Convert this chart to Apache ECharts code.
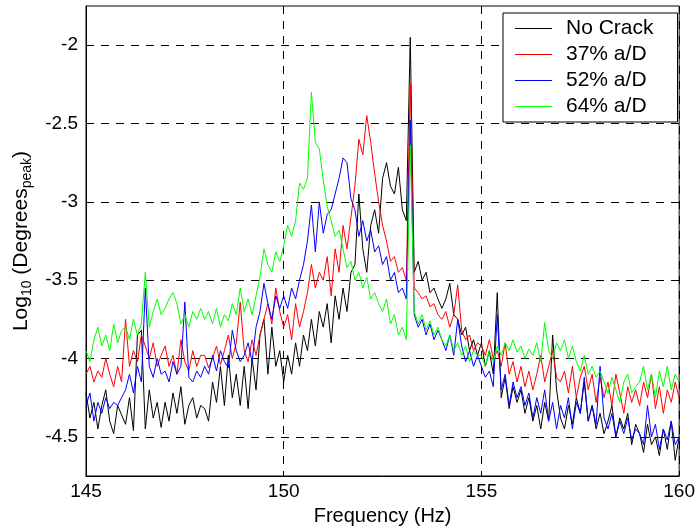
<!DOCTYPE html>
<html>
<head>
<meta charset="utf-8">
<script src="https://cdn.jsdelivr.net/npm/echarts@6/dist/echarts.min.js"></script>
<style>
  html, body { margin: 0; padding: 0; background: #fff; }
  #container { width: 698px; height: 531px; }
</style>
</head>
<body>
<div id="container"></div>
<script>
// sampling grid of the spectra (Hz)
var freqStart = 145;
var freqStep = 0.1;

var seriesNames = ['No Crack', '37% a/D', '52% a/D', '64% a/D'];
var seriesColors = ['#000000', '#ff0000', '#0000ff', '#00ff00'];
var yTicks = [-4.5, -4, -3.5, -3, -2.5, -2];

// log10 of peak amplitude, one value per 0.1 Hz from 145 to 160
var noCrack = [
    -4.22, -4.38, -4.28, -4.45, -4.30, -4.20, -4.40, -4.48, -4.30, -4.36,
    -4.42, -4.25, -4.46, -3.85, -3.82, -4.45, -4.20, -4.38, -4.28, -4.44,
    -4.28, -4.40, -4.22, -4.35, -4.18, -4.42, -4.30, -4.25, -4.38, -4.30,
    -4.32, -4.40, -4.15, -4.28, -4.05, -4.30, -3.98, -4.25, -4.10, -4.30,
    -4.05, -4.32, -4.00, -4.20, -3.85, -3.75, -4.10, -3.80, -4.05, -3.95,
    -4.15, -3.98, -4.10, -3.90, -4.05, -3.85, -3.95, -3.75, -3.92, -3.70,
    -3.80, -3.65, -3.90, -3.60, -3.75, -3.55, -3.70, -3.45, -3.40, -2.95,
    -3.30, -3.45, -3.15, -3.05, -3.20, -2.85, -2.75, -2.90, -2.95, -2.78,
    -3.05, -3.12, -1.95, -3.45, -3.38, -3.50, -3.45, -3.58, -3.55, -3.62,
    -3.68, -3.62, -3.52, -3.72, -3.75, -3.85, -3.80, -3.95, -3.88, -3.98,
    -3.90, -4.05, -3.95, -4.10, -3.58, -4.25, -4.12, -4.32, -4.18, -4.28,
    -4.20, -4.35, -4.25, -4.40, -4.30, -4.45, -4.28, -4.40, -3.85, -4.20,
    -4.38, -4.45, -4.30, -4.42, -4.25, -4.35, -4.15, -4.40, -4.30, -4.45,
    -4.35, -4.48, -4.40, -4.30, -4.50, -4.38, -4.45, -4.35, -4.55, -4.42,
    -4.48, -4.60, -4.42, -4.55, -4.50, -4.62, -4.45, -4.58, -4.40, -4.65,
    -4.50
];
var crack37 = [
    -4.10, -4.05, -4.15, -4.08, -4.12, -4.00, -4.10, -4.18, -4.05, -4.15,
    -3.75, -4.05, -3.95, -4.02, -3.85, -3.92, -4.00, -3.90, -4.05, -3.98,
    -3.92, -4.05, -3.98, -4.10, -3.88, -4.02, -4.08, -3.95, -4.05, -3.98,
    -3.98, -4.06, -4.00, -3.92, -4.04, -3.95, -3.85, -4.00, -3.90, -3.64,
    -3.95, -4.02, -3.88, -3.98, -3.85, -3.75, -3.65, -3.78, -3.55, -3.70,
    -3.80, -3.72, -3.88, -3.65, -3.80, -3.70, -3.58, -3.40, -3.55, -3.45,
    -3.50, -3.35, -3.60, -3.30, -3.45, -3.15, -3.30, -3.10, -2.90, -2.60,
    -2.70, -2.45, -2.62, -2.82, -3.00, -3.15, -3.25, -3.38, -3.35, -3.45,
    -3.42, -3.50, -2.24, -3.55, -3.58, -3.62, -3.60, -3.67, -3.65, -3.72,
    -3.75, -3.70, -3.80, -3.72, -3.53, -3.82, -3.88, -3.85, -3.95, -3.90,
    -3.92, -3.98, -3.88, -4.00, -3.95, -4.05, -3.90, -4.10, -4.02, -4.15,
    -4.05, -4.18, -4.08, -4.20, -4.10, -3.98, -4.15, -4.05, -3.95, -4.12,
    -4.15, -4.08, -4.22, -4.05, -4.25, -4.12, -4.05, -4.20, -4.10, -4.28,
    -4.12, -4.25, -4.15, -4.30, -4.10, -4.22, -4.35, -4.18, -4.28, -4.20,
    -4.30, -4.15, -4.25, -4.10, -4.32, -4.18, -4.35, -4.20, -4.28, -4.15,
    -4.25
];
var crack52 = [
    -4.30, -4.22, -4.40, -4.28, -4.35, -4.25, -4.32, -4.28, -4.30, -4.25,
    -4.20, -4.10, -4.22, -4.05, -4.15, -3.55, -4.05, -4.12, -4.00, -4.10,
    -4.08, -4.15, -4.02, -4.10, -4.05, -3.64, -4.12, -4.15, -4.08, -4.12,
    -4.05, -4.10, -3.98, -4.08, -3.95, -4.02, -4.06, -3.82, -3.95, -4.02,
    -3.98, -3.90, -4.02, -3.80, -3.70, -3.52, -3.65, -3.75, -3.60, -3.68,
    -3.60, -3.68, -3.55, -3.62, -3.50, -3.40, -3.25, -3.02, -3.32, -3.00,
    -3.20, -3.08, -3.05, -2.95, -2.85, -2.72, -2.75, -2.98, -3.05, -3.22,
    -3.12, -3.25, -3.18, -3.32, -3.28, -3.40, -3.35, -3.50, -3.45, -3.58,
    -3.55, -3.62, -2.48, -3.72, -3.80, -3.75, -3.85, -3.78, -3.88, -3.82,
    -3.88, -3.95, -3.85, -3.98, -3.75, -3.92, -4.02, -3.95, -4.05, -3.98,
    -4.05, -4.12, -4.08, -4.18, -3.72, -4.20, -4.10, -4.30, -4.15, -4.25,
    -4.18, -4.30, -4.22, -4.38, -4.25, -4.35, -4.20, -4.40, -4.28, -4.45,
    -4.30, -4.38, -4.25, -4.45, -4.28, -4.35, -4.12, -4.40, -4.30, -4.42,
    -4.05, -4.38, -4.45, -4.35, -4.50, -4.40, -4.48, -4.38, -4.52, -4.45,
    -4.48, -4.55, -4.30, -4.50, -4.42, -4.58, -4.45, -4.52, -4.40, -4.55,
    -4.50
];
var crack64 = [
    -3.95, -4.02, -3.88, -3.80, -3.92, -3.85, -3.95, -3.78, -3.90, -3.82,
    -3.80, -3.88, -3.75, -3.85, -3.78, -3.45, -3.80, -3.70, -3.62, -3.72,
    -3.68, -3.62, -3.58, -3.65, -3.78, -3.72, -3.80, -3.70, -3.75, -3.68,
    -3.75, -3.70, -3.78, -3.68, -3.80, -3.72, -3.76, -3.65, -3.72, -3.55,
    -3.70, -3.62, -3.72, -3.60, -3.48, -3.30, -3.40, -3.45, -3.32, -3.38,
    -3.28, -3.15, -3.22, -3.12, -2.88, -2.92, -2.85, -2.30, -2.62, -2.66,
    -2.86, -3.03, -3.12, -3.22, -3.18, -3.30, -3.42, -3.38, -3.50, -3.45,
    -3.55, -3.48, -3.62, -3.58, -3.65, -3.70, -3.62, -3.78, -3.72, -3.85,
    -3.80, -3.88, -2.64, -3.70, -3.78, -3.72, -3.82, -3.76, -3.85, -3.80,
    -3.88, -3.92, -3.85, -3.95, -3.90, -3.98, -3.92, -4.02, -3.95, -3.98,
    -3.98, -4.05, -3.95, -4.02, -3.92, -3.98, -3.90, -3.95, -3.88, -3.96,
    -3.92, -4.00, -3.94, -3.98, -3.90, -4.02, -3.77, -3.95, -4.00, -3.90,
    -3.95, -3.88, -4.00, -3.92, -4.02, -4.08, -3.98, -4.10, -4.05, -4.12,
    -4.08, -4.15, -4.22, -4.12, -4.20, -4.28, -4.15, -4.10, -4.22, -4.18,
    -4.15, -4.05, -4.20, -4.10, -4.25, -4.08, -4.18, -4.05, -4.20, -4.10,
    -4.15
];

var allValues = [noCrack, crack37, crack52, crack64];
var font = 'Liberation Sans, Arial, Helvetica, sans-serif';

function toPairs(values) {
    var pairs = [];
    for (var i = 0; i < values.length; i++) {
        pairs.push([+(freqStart + i * freqStep).toFixed(2), values[i]]);
    }
    return pairs;
}

var seriesList = [];
for (var s = 0; s < allValues.length; s++) {
    seriesList.push({
        name: seriesNames[s],
        type: 'line',
        data: toPairs(allValues[s]),
        symbol: 'none',
        showSymbol: false,
        color: seriesColors[s],
        lineStyle: { width: 1, color: seriesColors[s] },
        z: 2 + s
    });
}

var dom = document.getElementById('container');
var myChart = echarts.init(dom, null, { renderer: 'canvas' });
var option = {
    animation: false,
    backgroundColor: '#fff',
    textStyle: { fontFamily: font, color: '#000' },
    grid: {
        left: 85, right: 18, top: 6, bottom: 54,
        show: true, borderColor: '#000', borderWidth: 1,
        backgroundColor: 'transparent'
    },
    legend: {
        data: seriesNames,
        orient: 'vertical',
        left: 503, top: 13,
        padding: [5, 24, 5, 12],
        itemGap: 5,
        icon: 'rect',
        itemWidth: 37,
        itemHeight: 1,
        backgroundColor: '#fff',
        borderColor: '#000',
        borderWidth: 1,
        borderRadius: 0,
        textStyle: { fontFamily: font, fontSize: 21, color: '#000', lineHeight: 20, padding: [0, 0, 0, 9] }
    },
    xAxis: {
        type: 'value',
        min: 145, max: 160, interval: 5,
        name: 'Frequency (Hz)',
        nameLocation: 'middle',
        nameGap: 30,
        nameTextStyle: { fontFamily: font, fontSize: 20, color: '#000' },
        axisLine: { lineStyle: { color: '#000', width: 1 } },
        axisTick: { inside: true, length: 5, lineStyle: { color: '#000' } },
        axisLabel: { fontFamily: font, fontSize: 19, color: '#000', margin: 6 },
        splitLine: { show: true, lineStyle: { color: '#000', type: [8, 7], width: 1 } }
    },
    yAxis: {
        type: 'value',
        min: -4.75, max: -1.75,
        name: 'Log{s|10} (Degrees{s|peak})',
        nameLocation: 'middle',
        nameRotate: 90,
        nameGap: 52,
        nameTextStyle: {
            fontFamily: font, fontSize: 21, color: '#000', lineHeight: 26,
            rich: {
                s: { fontFamily: font, fontSize: 14, color: '#000', lineHeight: 12, verticalAlign: 'bottom' }
            }
        },
        axisLine: { lineStyle: { color: '#000', width: 1 } },
        axisTick: { inside: true, length: 5, customValues: yTicks, lineStyle: { color: '#000' } },
        axisLabel: { fontFamily: font, fontSize: 19, color: '#000', margin: 8, customValues: yTicks },
        splitLine: { show: true, lineStyle: { color: '#000', type: [8, 7], width: 1 } }
    },
    series: seriesList
};
myChart.setOption(option);
</script>
</body>
</html>
